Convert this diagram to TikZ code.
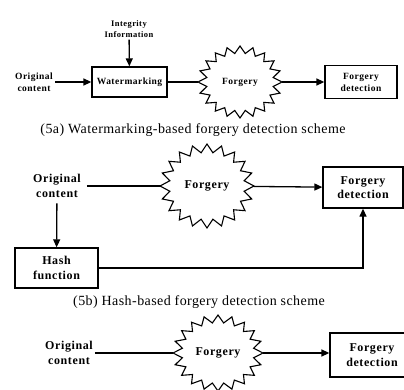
\documentclass[tikz,border=0pt]{standalone}
\usepackage{fontspec}
\setmainfont{Liberation Serif}
\newfontfamily\lsf[LetterSpace=5]{Liberation Serif}
\newfontfamily\capf[LetterSpace=3]{Liberation Serif}
\usetikzlibrary{arrows.meta,shapes.geometric}
\newcommand\drawstar[3]{\draw[starline, shift={(#1.center)}] plot[variable=\k, samples at={0,...,39}] ({(1-0.2*mod(\k,2))*#2*cos(9*\k)}, {(1-0.2*mod(\k,2))*#3*sin(9*\k)}) -- cycle;}
\begin{document}
\begin{tikzpicture}[x=1pt,y=-1pt,
 bx/.style={draw, line width=1.3pt, inner sep=0pt, align=center},
 lbl/.style={align=center, inner sep=2pt},
 smalltxt/.style={font=\lsf\bfseries\fontsize{9.5}{12}\selectfont},
 tinytxt/.style={font=\lsf\bfseries\fontsize{8.5}{11}\selectfont},
 bigtxt/.style={font=\lsf\bfseries\fontsize{12}{14.5}\selectfont},
 ln/.style={line width=1.3pt},
 arr/.style={line width=1.3pt, -{Triangle[length=8pt,width=7pt]}},
 captxt/.style={font=\capf\fontsize{14}{16}\selectfont, inner sep=0pt},
 hub/.style={ellipse, inner sep=0pt, align=center},
 starline/.style={line width=1.1pt, line join=miter}]
\useasboundingbox (0,0) rectangle (404,390);
\clip (0,0) rectangle (404,390);
% ---- (5a)
\node[lbl,tinytxt] (info) at (129,29) {Integrity\\Information};
\node[bx,smalltxt,minimum width=75pt,minimum height=30pt] (wm) at (129.5,82) {Watermarking};
\node[lbl,smalltxt] (o1) at (34,82) {Original\\content};
\node[hub,smalltxt,minimum width=84pt,minimum height=72pt] (s1) at (240,82) {Forgery};
\drawstar{s1}{42}{36}
\node[bx,smalltxt,minimum width=72pt,minimum height=33pt] (d1) at (361,82) {Forgery\\detection};
\draw[arr] (o1) -- (wm);
\draw[arr] (info) -- (wm);
\draw[ln] (wm) -- (s1);
\draw[arr] (s1) -- (d1);
\node[captxt] (c1) at (193,130) {(5a) Watermarking-based forgery detection scheme};
% ---- (5b)
\node[lbl,bigtxt,outer sep=4pt] (o2) at (57,186) {Original\\content};
\node[hub,bigtxt,minimum width=94pt,minimum height=84pt] (s2) at (207,186) {Forgery};
\drawstar{s2}{47}{42}
\node[bx,bigtxt,minimum width=80pt,minimum height=41pt] (d2) at (363,187.5) {Forgery\\detection};
\node[bx,bigtxt,minimum width=83pt,minimum height=40pt] (h2) at (56.5,268) {Hash\\function};
\draw[ln] (o2) -- (s2);
\draw[arr] (s2) -- (d2);
\draw[arr] (o2) -- (h2);
\draw[arr] (h2.east) -| (d2.south);
\node[captxt] (c2) at (199,302) {(5b) Hash-based forgery detection scheme};
% ---- bottom
\node[lbl,bigtxt] (o3) at (69,353) {Original\\content};
\node[hub,bigtxt,minimum width=90pt,minimum height=76pt] (s3) at (218,353) {Forgery};
\drawstar{s3}{45}{38}
\node[bx,bigtxt,minimum width=84pt,minimum height=44pt] (d3) at (372,355) {Forgery\\detection};
\draw[ln] (o3) -- (s3);
\draw[arr] (s3) -- (d3.west |- s3.east);
\end{tikzpicture}
\end{document}
